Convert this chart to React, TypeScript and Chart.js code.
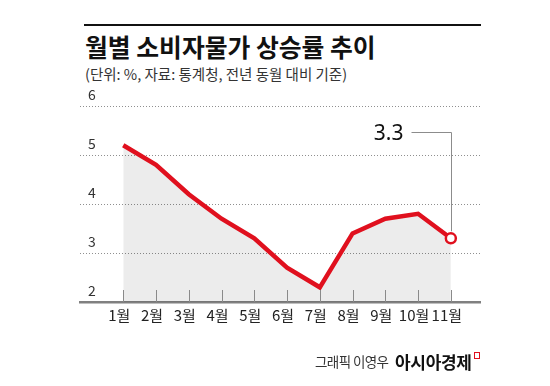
import React, { useEffect, useRef } from "react";
import { Chart, registerables } from "chart.js";

Chart.register(...registerables);

const MONTHS = ["1월", "2월", "3월", "4월", "5월", "6월", "7월", "8월", "9월", "10월", "11월"];
const CPI = [5.2, 4.8, 4.2, 3.7, 3.3, 2.7, 2.3, 3.4, 3.7, 3.8, 3.3];
const Y_TICKS = [2, 3, 4, 5, 6];
const LAST_LABEL = "3.3";

const FONT = "'Noto Sans CJK KR', 'Noto Sans', sans-serif";
const RED = "#e0101e";

const decorPlugin = {
  id: "decor",
  afterDatasetsDraw(chart: any) {
    const { ctx, scales } = chart;
    const xs = scales.x;
    const ys = scales.y;
    const bottom = ys.getPixelForValue(Y_TICKS[0]);
    ctx.save();
    // inner tick marks
    ctx.strokeStyle = "#8a8a8a";
    ctx.lineWidth = 1;
    MONTHS.forEach((_, i) => {
      const x = Math.round(xs.getPixelForValue(i)) + 0.5;
      ctx.beginPath();
      ctx.moveTo(x, bottom);
      ctx.lineTo(x, bottom - 12);
      ctx.stroke();
    });
    // leader line to last point
    const li = CPI.length - 1;
    const px = Math.round(xs.getPixelForValue(li)) + 0.5;
    const py = ys.getPixelForValue(CPI[li]);
    const ly = Math.round(ys.getPixelForValue(5.47)) + 0.5;
    ctx.strokeStyle = "#8c8c8c";
    ctx.beginPath();
    ctx.moveTo(px - 40, ly);
    ctx.lineTo(px, ly);
    ctx.lineTo(px, py - 7);
    ctx.stroke();
    ctx.fillStyle = "#111";
    ctx.font = "21px 'Noto Sans', sans-serif";
    ctx.textAlign = "right";
    ctx.textBaseline = "middle";
    ctx.fillText(LAST_LABEL, px - 48, ly + 2);
    ctx.restore();
  },
};

export default function App() {
  const ref = useRef<HTMLCanvasElement>(null);
  useEffect(() => {
    if (!ref.current) return;
    const last = CPI.length - 1;
    const chart = new Chart(ref.current, {
      type: "line",
      data: {
        datasets: [
          {
            data: CPI.map((v, i) => ({ x: i, y: v })),
            borderColor: RED,
            borderWidth: 4.5,
            backgroundColor: "rgba(0,0,0,0.075)",
            fill: "start",
            tension: 0,
            pointRadius: (c: any) => (c.dataIndex === last ? 5 : 0),
            pointBackgroundColor: "#fff",
            pointBorderColor: RED,
            pointBorderWidth: 2.5,
          },
        ],
      },
      options: {
        animation: false,
        responsive: false,
        maintainAspectRatio: false,
        layout: { padding: { left: 64, right: 70, top: 106, bottom: 58 } },
        plugins: { legend: { display: false }, tooltip: { enabled: false } },
        scales: {
          x: {
            type: "linear",
            min: -1.32,
            max: 10.89,
            grid: { display: false, drawTicks: false },
            border: { display: true, color: "#808080", width: 2.5 },
            ticks: {
              stepSize: 1,
              includeBounds: false,
              autoSkip: false,
              maxRotation: 0,
              padding: 4,
              labelOffset: -4,
              color: "#222",
              font: { family: FONT, size: 15 },
              callback: (v: any) => (Number.isInteger(v) && MONTHS[v] ? MONTHS[v] : ""),
            },
          },
          y: {
            min: Y_TICKS[0],
            max: Y_TICKS[Y_TICKS.length - 1],
            afterBuildTicks: (s: any) => {
              s.ticks = Y_TICKS.map((v) => ({ value: v }));
            },
            grid: {
              color: "#8f8f8f",
              lineWidth: 1,
              drawTicks: false,
            },
            border: { display: false, dash: [1, 2] },
            ticks: {
              mirror: true,
              padding: 8,
              labelOffset: -11,
              color: "#333",
              font: { family: FONT, size: 14 },
            },
          },
        },
      },
      plugins: [decorPlugin],
    } as any);
    return () => chart.destroy();
  }, []);

  return (
    <div style={{ position: "absolute", left: 0, top: 0, width: 550, height: 386, background: "#fff", fontFamily: FONT }}>
      <div style={{ position: "absolute", left: 84, top: 24, width: 397, height: 2, background: "#111" }} />
      <div style={{ position: "absolute", left: 85, top: 34, fontSize: 24.8, fontWeight: 700, lineHeight: 1, letterSpacing: 0, color: "#111", whiteSpace: "nowrap" }}>
        월별 소비자물가 상승률 추이
      </div>
      <div style={{ position: "absolute", left: 85, top: 67, fontSize: 14.5, lineHeight: 1, letterSpacing: 0, color: "#333", whiteSpace: "nowrap" }}>
        (단위: %, 자료: 통계청, 전년 동월 대비 기준)
      </div>
      <canvas ref={ref} width={550} height={386} style={{ position: "absolute", left: 0, top: 0, width: 550, height: 386 }} />
      <div style={{ position: "absolute", left: 315, top: 355, fontSize: 13.5, lineHeight: 1, letterSpacing: -0.6, color: "#333", whiteSpace: "nowrap" }}>
        그래픽 이영우
      </div>
      <div style={{ position: "absolute", left: 395, top: 353, fontSize: 17, fontWeight: 700, lineHeight: 1, letterSpacing: -0.3, color: "#111", whiteSpace: "nowrap" }}>
        아시아경제
      </div>
      <div style={{ position: "absolute", left: 474, top: 352, width: 4, height: 5, border: `1.5px solid ${RED}` }} />
    </div>
  );
}
